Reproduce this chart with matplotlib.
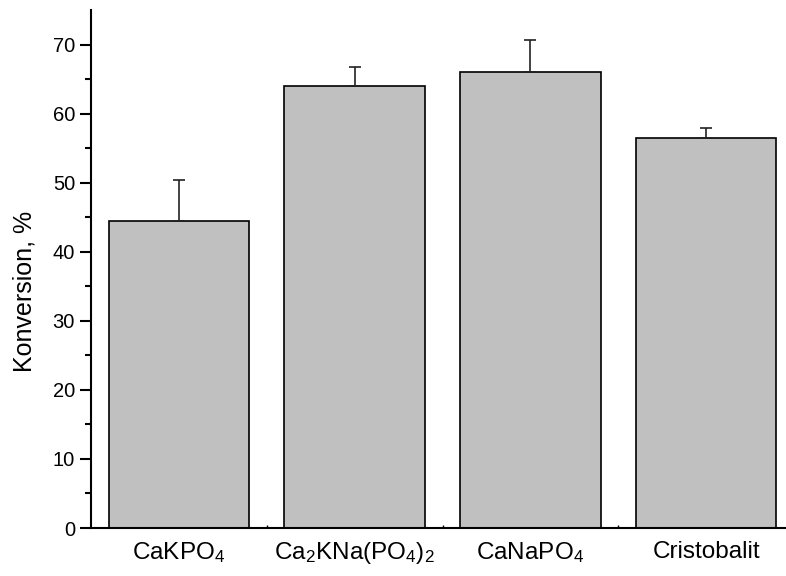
import numpy as np
import matplotlib
matplotlib.use('Agg')
import matplotlib.pyplot as plt

plt.rcParams['font.family'] = ['Liberation Sans', 'DejaVu Sans']
plt.rcParams['mathtext.fontset'] = 'custom'
plt.rcParams['mathtext.rm'] = 'Liberation Sans'
plt.rcParams['mathtext.it'] = 'Liberation Sans'

samples = [r'CaKPO$_4$', r'Ca$_2$KNa(PO$_4$)$_2$', r'CaNaPO$_4$', 'Cristobalit']
conversion = [44.5, 64.0, 66.0, 56.5]
conversion_err = [5.9, 2.8, 4.6, 1.4]

fig = plt.figure(figsize=(7.86, 5.76), dpi=100)
ax = fig.add_axes([91/786, 48/576, (794-91)/786, 518/576])

x = np.arange(len(samples))
ax.bar(x, conversion, width=0.8, color='#c0c0c0', edgecolor='black', linewidth=1.2, zorder=2)
ax.errorbar(x, conversion, yerr=[np.zeros(len(x)), conversion_err], fmt='none',
            ecolor='#222222', elinewidth=1.2, capsize=4, capthick=1.2, zorder=3)

ax.set_xlim(-0.5, 3.5)
ax.set_ylim(0, 75)
ax.set_yticks(np.arange(0, 71, 10))
ax.set_yticks(np.arange(5, 75, 10), minor=True)
ax.set_xticks(x)
ax.set_xticklabels(samples, fontsize=17.5)
ax.set_xticks(x[:-1] + 0.5, minor=True)
ax.tick_params(axis='y', which='major', length=8, width=1.5, labelsize=14.5, direction='out')
ax.tick_params(axis='y', which='minor', length=4, width=1.5, direction='out')
ax.tick_params(axis='x', which='both', length=2, width=1, direction='in', pad=9)
ax.set_ylabel('Konversion, %', fontsize=18, va='center')
ax.yaxis.set_label_coords(-0.095, 0.456)

for s in ['top', 'right']:
    ax.spines[s].set_visible(False)
for s in ['left', 'bottom']:
    ax.spines[s].set_linewidth(1.5)

fig.savefig('out.png', dpi=100)
